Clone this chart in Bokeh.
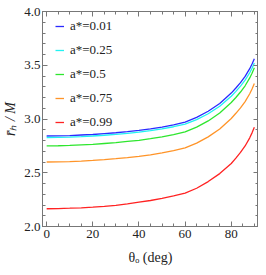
from bokeh.plotting import figure
from bokeh.models import (Range1d, LinearAxis, Legend, LegendItem,
                          CustomJSTickFormatter, SingleIntervalTicker)
from bokeh.embed import file_html
from bokeh.resources import INLINE

# observer inclination (deg)
theta = [0, 5, 10, 15, 20, 25, 30, 35, 40, 45, 50, 55, 60,
         65, 70, 75, 80, 82, 84, 86, 88, 89, 90]

# average shadow radius r_h / M for each spin
r_001 = [2.842, 2.843, 2.846, 2.851, 2.856, 2.864, 2.872, 2.882, 2.894, 2.908, 2.925, 2.946, 2.971,
         3.015, 3.072, 3.144, 3.241, 3.288, 3.338, 3.396, 3.468, 3.511, 3.561]
r_025 = [2.828, 2.829, 2.832, 2.836, 2.842, 2.849, 2.857, 2.867, 2.878, 2.892, 2.908, 2.928, 2.953,
         2.994, 3.049, 3.119, 3.212, 3.257, 3.306, 3.361, 3.430, 3.472, 3.520]
r_050 = [2.750, 2.751, 2.754, 2.759, 2.764, 2.772, 2.780, 2.791, 2.802, 2.817, 2.834, 2.855, 2.881,
         2.924, 2.982, 3.055, 3.153, 3.200, 3.251, 3.309, 3.382, 3.425, 3.476]
r_075 = [2.600, 2.601, 2.604, 2.609, 2.615, 2.622, 2.631, 2.641, 2.653, 2.667, 2.685, 2.706, 2.731,
         2.775, 2.834, 2.907, 3.005, 3.053, 3.104, 3.162, 3.235, 3.279, 3.330]
r_099 = [2.165, 2.167, 2.170, 2.174, 2.180, 2.188, 2.197, 2.210, 2.226, 2.242, 2.261, 2.284, 2.311,
         2.356, 2.418, 2.492, 2.586, 2.636, 2.689, 2.749, 2.825, 2.871, 2.924]

labels = ["a*=0.01", "a*=0.25", "a*=0.5", "a*=0.75", "a*=0.99"]
series = [r_001, r_025, r_050, r_075, r_099]
colors = ["#2a2aff", "#22f2f2", "#2ee62e", "#ff9428", "#ff2222"]

x_ticks = [0, 20, 40, 60, 80]
y_ticks = [2.0, 2.5, 3.0, 3.5, 4.0]

FONT = "Liberation Serif"
FRAME = "#777777"

p = figure(width=258, height=267, output_backend="svg", toolbar_location=None,
           x_range=Range1d(-1.8, 91.8), y_range=Range1d(2.0, 4.0),
           min_border_left=20, min_border_right=0, min_border_top=11,
           min_border_bottom=0)
p.background_fill_color = "white"
p.border_fill_color = "white"
p.outline_line_color = FRAME
p.grid.visible = False

items = []
for lab, ys, c in zip(labels, series, colors):
    r = p.line(theta, ys, line_color=c, line_width=1.3)
    items.append(LegendItem(label=lab, renderers=[r]))

def style(ax, show):
    ax.axis_line_color = FRAME
    ax.axis_line_width = 1
    ax.major_tick_line_color = FRAME
    ax.minor_tick_line_color = FRAME
    ax.major_tick_in = 5
    ax.major_tick_out = 0
    ax.minor_tick_in = 3
    ax.minor_tick_out = 0
    ax.major_label_text_font = FONT
    ax.major_label_text_font_size = "13px"
    ax.major_label_text_color = "#222222"
    ax.axis_label_text_font = FONT
    ax.axis_label_text_font_size = "14px"
    ax.axis_label_text_color = "#222222"
    ax.axis_label_text_font_style = "normal"
    if not show:
        ax.formatter = CustomJSTickFormatter(code="return ''")
        ax.major_label_standoff = 0
        ax.axis_label_standoff = 0
        ax.major_label_text_font_size = "1px"
        ax.axis_label_text_font_size = "1px"

p.xaxis.ticker = SingleIntervalTicker(interval=20, num_minor_ticks=4)
p.yaxis.ticker = SingleIntervalTicker(interval=0.5, num_minor_ticks=5)
p.xaxis.major_label_overrides = {v: str(v) for v in x_ticks}
p.yaxis.major_label_overrides = {v: f"{v:.1f}" for v in y_ticks}
p.xaxis.axis_label = "θₒ (deg)"
p.yaxis.axis_label = "r̄ₕ / M"
style(p.xaxis[0], True)
style(p.yaxis[0], True)
p.yaxis.axis_label_text_font_style = "italic"
p.xaxis.major_label_standoff = 3
p.yaxis.major_label_standoff = 2
p.xaxis.axis_label_standoff = 9
p.yaxis.axis_label_standoff = 3

top = LinearAxis(ticker=SingleIntervalTicker(interval=20, num_minor_ticks=4))
right = LinearAxis(ticker=SingleIntervalTicker(interval=0.5, num_minor_ticks=5))
style(top, False)
style(right, False)
p.add_layout(top, "above")
p.add_layout(right, "right")

legend = Legend(items=items)
legend.border_line_color = None
legend.background_fill_alpha = 0
legend.label_text_font = FONT
legend.label_text_font_size = "13px"
legend.label_text_color = "#222222"
legend.glyph_width = 9
legend.glyph_height = 12
legend.label_height = 12
legend.label_standoff = 6
legend.spacing = 8
legend.padding = 0
legend.margin = 0
legend.location = (13, 96)
p.add_layout(legend)

open("out.html", "w").write(file_html(p, INLINE))
